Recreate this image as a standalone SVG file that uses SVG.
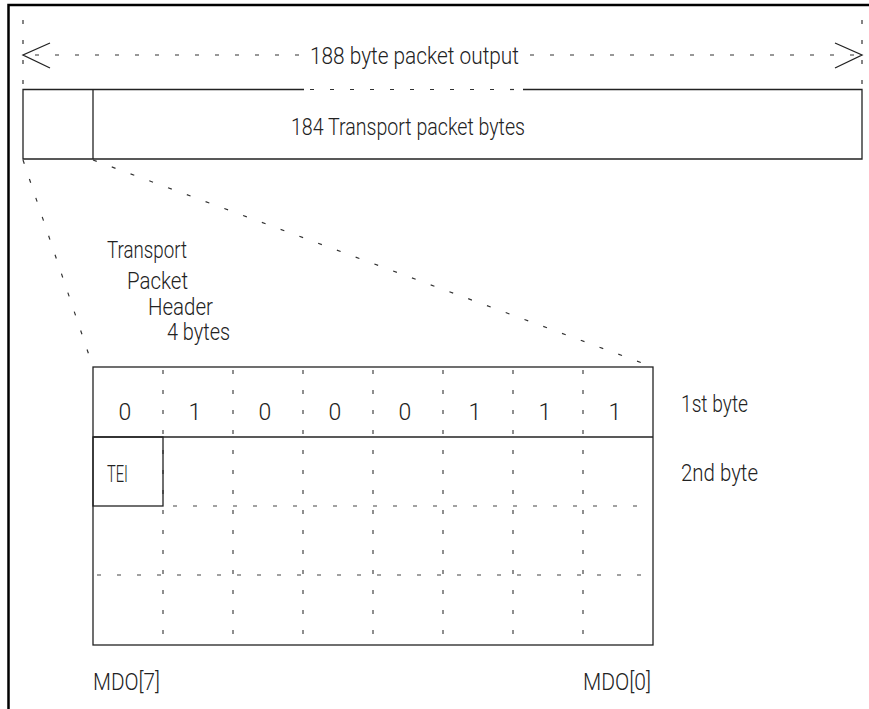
<svg xmlns="http://www.w3.org/2000/svg" width="869" height="709" viewBox="0 0 869 709">
<style>
text{font-family:Roboto,"Liberation Sans",Arial,sans-serif;font-weight:300;font-size:23px;fill:#222;}
.solid{stroke:#222;stroke-width:1.3;fill:none;}
.dash{stroke:#333;stroke-width:1.2;stroke-dasharray:4 16;fill:none;}
.dashg{stroke:#444;stroke-width:1.2;stroke-dasharray:4 16;fill:none;}
.mid{text-anchor:middle;}
</style>
<rect width="869" height="709" fill="#fff"/>
<g id="frame"><path d="M8.5 709 V5 H869" stroke="#000" stroke-width="2.5" fill="none"/></g>

<g id="connectors">
  <line class="dash" x1="23" y1="20" x2="23" y2="86"/>
  <line class="dash" x1="862" y1="20" x2="862" y2="86"/>
  <line class="dash" x1="27" y1="55" x2="304" y2="55" stroke-dashoffset="-8"/>
  <line class="dash" x1="530" y1="55" x2="858" y2="55"/>
  <polyline class="solid" points="50,43 23,55 50,68"/>
  <polyline class="solid" points="835,43 862,55 835,68"/>
  <line class="dash" x1="23" y1="160" x2="93" y2="367"/>
  <line class="dash" x1="93" y1="160" x2="653" y2="367"/>
</g>

<g id="packet-bar">
  <path class="solid" d="M304 89.5 H23 V159 H862 V89.5 H523"/>
  <line class="dash" x1="304" y1="89.5" x2="523" y2="89.5" stroke-dashoffset="-6"/>
  <line class="solid" x1="93" y1="89.5" x2="93" y2="159"/>
</g>

<g id="label-188"><text x="310" y="64" textLength="209" lengthAdjust="spacingAndGlyphs">188 byte packet output</text></g>
<g id="label-184"><text x="291" y="135" textLength="234" lengthAdjust="spacingAndGlyphs">184 Transport packet bytes</text></g>

<g id="header-label">
  <text x="107" y="258" textLength="80" lengthAdjust="spacingAndGlyphs">Transport</text>
  <text x="127" y="289" textLength="61" lengthAdjust="spacingAndGlyphs">Packet</text>
  <text x="148" y="315" textLength="65" lengthAdjust="spacingAndGlyphs">Header</text>
  <text x="167" y="340" textLength="63" lengthAdjust="spacingAndGlyphs">4 bytes</text>
</g>

<g id="header-table">
  <line class="dashg" x1="163" y1="370" x2="163" y2="645"/>
  <line class="dashg" x1="233" y1="370" x2="233" y2="645"/>
  <line class="dashg" x1="303" y1="370" x2="303" y2="645"/>
  <line class="dashg" x1="373" y1="370" x2="373" y2="645"/>
  <line class="dashg" x1="443" y1="370" x2="443" y2="645"/>
  <line class="dashg" x1="513" y1="370" x2="513" y2="645"/>
  <line class="dashg" x1="583" y1="370" x2="583" y2="645"/>
  <line class="dashg" x1="163" y1="506" x2="653" y2="506" stroke-dashoffset="-10"/>
  <line class="dashg" x1="97" y1="575" x2="653" y2="575"/>
  <rect class="solid" x="93" y="367" width="560" height="278"/>
  <line class="solid" x1="93" y1="437" x2="653" y2="437"/>
  <rect class="solid" x="93" y="437" width="70" height="69"/>
</g>

<g id="byte1-bits">
  <text class="mid" x="125" y="420" font-size="24">0</text>
  <text class="mid" x="195" y="420" font-size="24">1</text>
  <text class="mid" x="265" y="420" font-size="24">0</text>
  <text class="mid" x="335" y="420" font-size="24">0</text>
  <text class="mid" x="405" y="420" font-size="24">0</text>
  <text class="mid" x="475" y="420" font-size="24">1</text>
  <text class="mid" x="545" y="420" font-size="24">1</text>
  <text class="mid" x="615" y="420" font-size="24">1</text>
</g>
<g id="tei"><text x="107" y="482" textLength="21" lengthAdjust="spacingAndGlyphs">TEI</text></g>
<g id="label-1st"><text x="681" y="412" textLength="67" lengthAdjust="spacingAndGlyphs">1st byte</text></g>
<g id="label-2nd"><text x="681" y="481" textLength="77" lengthAdjust="spacingAndGlyphs">2nd byte</text></g>
<g id="label-mdo7"><text x="93" y="690" textLength="67" lengthAdjust="spacingAndGlyphs">MDO[7]</text></g>
<g id="label-mdo0"><text x="583" y="690" textLength="68" lengthAdjust="spacingAndGlyphs">MDO[0]</text></g>
</svg>
